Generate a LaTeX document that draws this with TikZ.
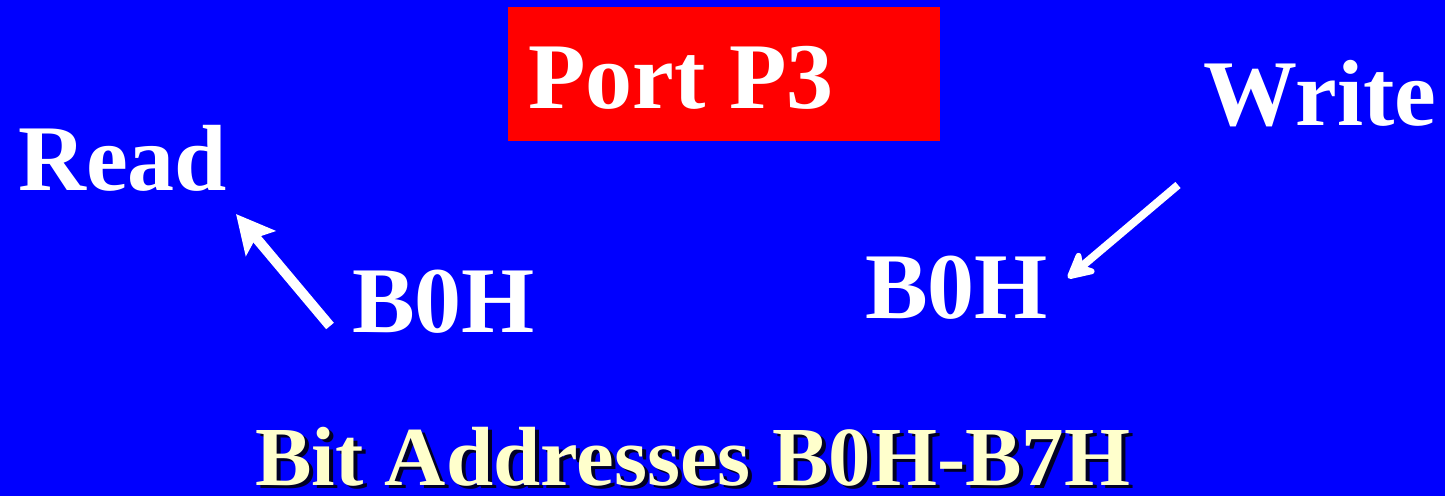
\documentclass[tikz,border=0pt]{standalone}
\usepackage{fontspec}
\setmainfont{Liberation Serif}
\usetikzlibrary{arrows.meta}
\definecolor{bgblue}{RGB}{0,0,255}
\definecolor{paleyellow}{RGB}{255,255,204}
\tikzset{
  big/.style={text=white,inner sep=0pt,anchor=base west,font=\fontsize{94}{94}\selectfont\bfseries},
  arr/.style={draw=white,line width=10pt,-{Stealth[length=38pt,width=38pt,inset=7pt]}},
  arrB/.style={draw=white,line width=8pt,-{Stealth[round,length=33pt,width=34pt,inset=10pt]}},
  bottomtext/.style={inner sep=0pt,anchor=base west,font=\fontsize{84}{84}\selectfont\bfseries},
}
\begin{document}
\begin{tikzpicture}[x=1pt,y=-1pt]
\fill[bgblue] (0,0) rectangle (1445,496);
\useasboundingbox (0,0) rectangle (1445,496);
\node[fill=red,minimum width=432pt,minimum height=134pt,inner sep=0pt,anchor=north west] (box) at (508,7) {};
\node[big] (port) at (528,108) {Port P3};
\node[big] (read) at (18,190) {Read};
\node[big] (write) at (1203,125) {Write};
\node[big] (b0l) at (352,332) {B0H};
\node[big] (b0r) at (865,318) {B0H};
\coordinate (ls) at (330,326);
\coordinate (le) at (236,214);
\coordinate (rs) at (1178,185);
\coordinate (re) at (1068,278);
\draw[arr] (ls) -- (le);
\draw[arrB] (rs) -- (re);
\node[bottomtext,text=black!85!blue,xscale=1.01] (shadow) at (259,488) {Bit Addresses B0H-B7H};
\node[bottomtext,text=paleyellow,xscale=1.01] (bits) at (255,485) {Bit Addresses B0H-B7H};
\end{tikzpicture}
\end{document}
